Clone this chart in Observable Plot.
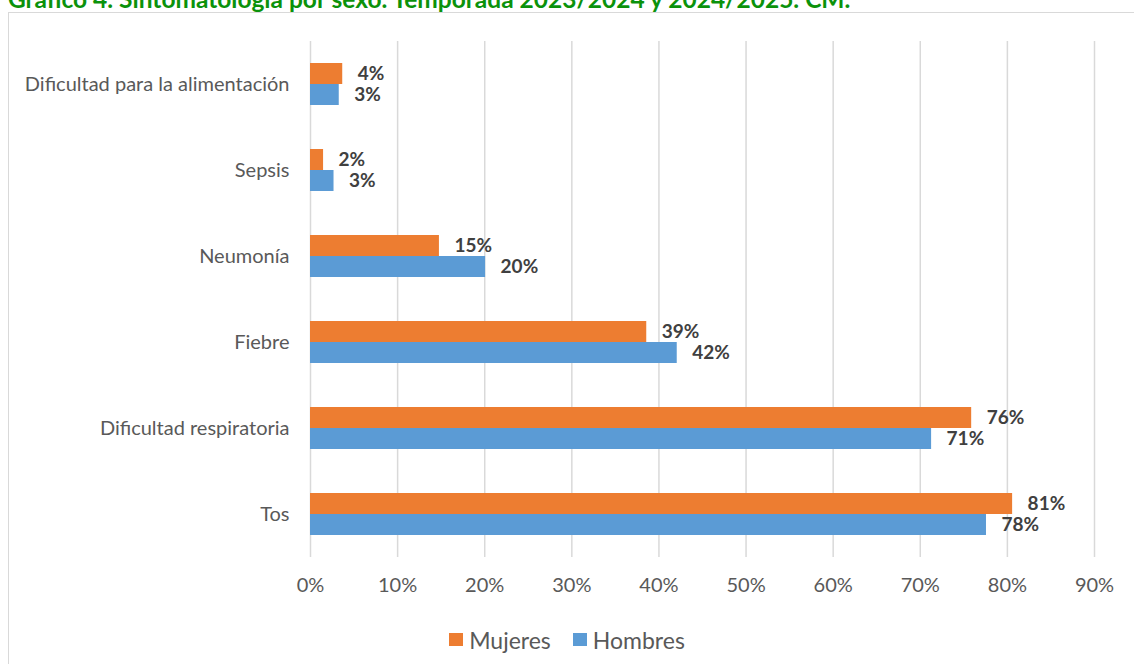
<!DOCTYPE html>
<html>
<head>
<meta charset="utf-8">
<script src="https://cdn.jsdelivr.net/npm/d3@7"></script>
<script src="https://cdn.jsdelivr.net/npm/@observablehq/plot@0.6"></script>
<style>
  html, body { margin: 0; padding: 0; background: #fff; }
  #wrap { position: relative; width: 1134px; height: 664px; overflow: hidden; font-family: Lato, "Open Sans", sans-serif; }
  #title { position: absolute; left: 8px; top: -13px; font-size: 24.5px; font-weight: bold; color: #0b920b; white-space: nowrap; line-height: 24.5px; }
  #frame { position: absolute; left: 8px; top: 12px; width: 1140px; height: 700px; border: 1.5px solid #d9d9d9; box-sizing: border-box; }
  #chart { position: absolute; left: 0; top: 0; }
  #legend { position: absolute; left: 0; width: 1134px; top: 623px; text-align: center; font-size: 23px; color: #595959; }
  #legend span.item { display: inline-flex; align-items: center; margin: 0 11px; }
  #legend span.sw { display: inline-block; width: 14px; height: 13px; margin-right: 6px; }
</style>
</head>
<body>
<div id="wrap">
  <div id="frame"></div>
  <div id="title">Gráfico 4. Sintomatología por sexo. Temporada 2023/2024 y 2024/2025. CM.</div>
  <div id="chart"></div>
  <div id="legend"></div>
</div>
<script>
const categories = ["Dificultad para la alimentación", "Sepsis", "Neumonía", "Fiebre", "Dificultad respiratoria", "Tos"];
const series = ["Mujeres", "Hombres"];
const colors = ["#ED7D31", "#5B9BD5"];
const mujeres = [3.7, 1.5, 14.8, 38.6, 75.9, 80.6];
const hombres = [3.3, 2.7, 20.1, 42.1, 71.3, 77.6];
const xTicks = [0, 10, 20, 30, 40, 50, 60, 70, 80, 90];

const data = [];
categories.forEach((c, i) => {
  data.push({cat: c, sexo: "Mujeres", value: mujeres[i]});
  data.push({cat: c, sexo: "Hombres", value: hombres[i]});
});

const chart = Plot.plot({
  width: 1134,
  height: 600,
  marginLeft: 310,
  marginRight: 40,
  marginTop: 40,
  marginBottom: 42,
  style: {fontFamily: "Lato, 'Open Sans', sans-serif", fontSize: "20px", background: "transparent", overflow: "visible"},
  x: {domain: [0, 90], axis: null},
  y: {domain: series, paddingInner: 0, paddingOuter: 0.96, axis: null},
  fy: {domain: categories, padding: 0, axis: null},
  color: {domain: series, range: colors},
  marks: [
    Plot.gridX(xTicks, {stroke: "#d9d9d9", strokeOpacity: 1, strokeWidth: 1.5}),
    Plot.barX(data, {x: "value", y: "sexo", fy: "cat", fill: "sexo"}),
    Plot.text(data, {x: "value", y: "sexo", fy: "cat", text: d => Math.round(d.value) + "%", dx: 15, textAnchor: "start", fontWeight: "bold", fill: "#404040", fontSize: 19}),
    Plot.axisX({anchor: "bottom", ticks: xTicks, tickSize: 0, tickPadding: 20, tickFormat: d => d + "%", color: "#595959", label: null, fontSize: 20}),
    Plot.axisFy({anchor: "left", tickSize: 0, tickPadding: 21, color: "#595959", label: null, fontSize: 20})
  ]
});
document.getElementById("chart").appendChild(chart);

const legend = document.getElementById("legend");
series.forEach((s, i) => {
  const item = document.createElement("span");
  item.className = "item";
  const sw = document.createElement("span");
  sw.className = "sw";
  sw.style.background = colors[i];
  item.appendChild(sw);
  item.appendChild(document.createTextNode(s));
  legend.appendChild(item);
});
</script>
</body>
</html>
